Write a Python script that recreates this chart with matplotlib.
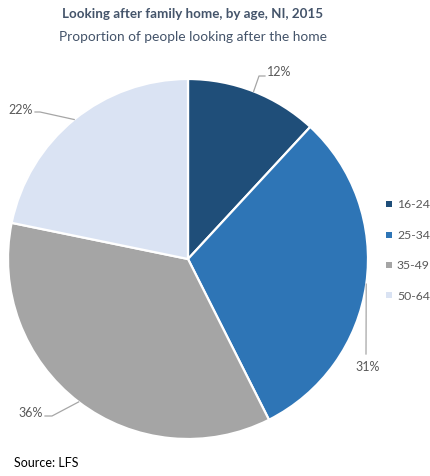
import numpy as np
import matplotlib
matplotlib.use("Agg")
import matplotlib.pyplot as plt
from matplotlib.patches import Rectangle

plt.rcParams['font.family'] = ['Lato', 'DejaVu Sans']

age_groups = ["16-24", "25-34", "35-49", "50-64"]
shares = [12, 31, 36, 22]
colors = ["#1F4E79", "#2E75B6", "#A5A5A5", "#DAE3F3"]

W, H = 431, 477
fig = plt.figure(figsize=(W / 100, H / 100), dpi=100)

# pie axes: centre at (188, 260) px, radius 180 px
cx, cy, r = 188, 260, 180
ax = fig.add_axes([(cx - r) / W, (H - cy - r) / H, 2 * r / W, 2 * r / H])
wedges, _ = ax.pie(shares, colors=colors, startangle=90, counterclock=False,
                   radius=1.0, wedgeprops=dict(edgecolor="white", linewidth=1.6))
ax.set_xlim(-1, 1)
ax.set_ylim(-1, 1)
ax.set_aspect("equal")
ax.axis("off")
ax.set_clip_on(False)

def px(x, y):
    # pixel (top-left origin) to data coords of the pie axes
    return ((x - cx) / r, (cy - y) / r)

# leader-line elbows and label anchors in pixels
label_layout = [
    dict(elbow=[(259, 77), (265, 77)], text=(267, 72), ha="left"),
    dict(elbow=[(366, 355)], text=(368, 367), ha="center"),
    dict(elbow=[(52, 417), (45, 417)], text=(43, 413), ha="right"),
    dict(elbow=[(40, 113), (35, 113)], text=(33, 110), ha="right"),
]
line_col = "#A6A6A6"
for w, val, lay in zip(wedges, shares, label_layout):
    mid = np.deg2rad((w.theta1 + w.theta2) / 2)
    pts = [(np.cos(mid), np.sin(mid))] + [px(*p) for p in lay["elbow"]]
    xs, ys = zip(*pts)
    ax.plot(xs, ys, color=line_col, lw=0.9, clip_on=False)
    tx, ty = px(*lay["text"])
    ax.text(tx, ty, f"{val}%", ha=lay["ha"], va="center", fontsize=9.0,
            color="#595959")

# titles
fig.text(193 / W, 1 - 14 / H, "Looking after family home, by age, NI, 2015",
         ha="center", va="center", fontsize=9.6, fontweight="bold", color="#44546A")
fig.text(193 / W, 1 - 37 / H, "Proportion of people looking after the home",
         ha="center", va="center", fontsize=9.9, color="#44546A")

# legend
leg_y = [205, 236, 266, 296]
for lab, col, y in zip(age_groups, colors, leg_y):
    fig.patches.append(Rectangle(((386) / W, 1 - (y + 3) / H), 6 / W, 6 / H,
                                 transform=fig.transFigure, facecolor=col,
                                 edgecolor="none"))
    fig.text(397 / W, 1 - y / H, lab, ha="left", va="center", fontsize=8.8,
             color="#595959")

fig.text(14 / W, 1 - 463 / H, "Source: LFS", ha="left", va="center",
         fontsize=9, color="#000000")

fig.savefig("out.png", dpi=100)
